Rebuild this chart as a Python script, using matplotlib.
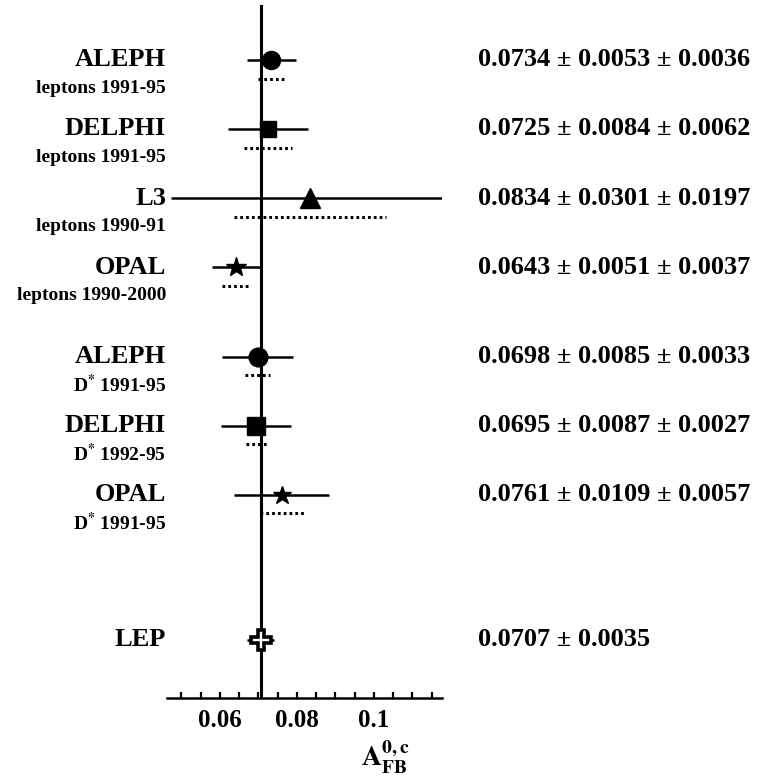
import numpy as np
import matplotlib
matplotlib.use("Agg")
import matplotlib.pyplot as plt
from matplotlib.transforms import blended_transform_factory

plt.rcParams['font.family'] = ['Liberation Serif', 'DejaVu Serif']
plt.rcParams['font.weight'] = 'bold'
plt.rcParams['mathtext.fontset'] = 'stix'

# measurements of A_FB^{0,c}
names = ['ALEPH', 'DELPHI', 'L3', 'OPAL', 'ALEPH', 'DELPHI', 'OPAL', 'LEP']
subtitles = ['leptons 1991-95', 'leptons 1991-95', 'leptons 1990-91',
             'leptons 1990-2000', r'D$^{*}$ 1991-95', r'D$^{*}$ 1992-95',
             r'D$^{*}$ 1991-95', '']
values = [0.0734, 0.0725, 0.0834, 0.0643, 0.0698, 0.0695, 0.0761, 0.0707]
stat = [0.0053, 0.0084, 0.0301, 0.0051, 0.0085, 0.0087, 0.0109, 0.0035]
syst = [0.0036, 0.0062, 0.0197, 0.0037, 0.0033, 0.0027, 0.0057, None]
lep_avg = 0.0707

markers = ['o', 's', '^', '*', 'o', 's', '*', 'P']
msizes = [13, 11.5, 14, 15, 13.5, 13, 13.5, 15]

# vertical layout of the rows (row units, top to bottom)
rows = [0, 1, 2, 3, 4.3, 5.3, 6.3, 8.4]

fig = plt.figure(figsize=(7.64, 7.84), dpi=100)
ax = fig.add_axes([167 / 764, 1 - 698 / 784, 275 / 764, 693 / 784])
ax.set_xlim(0.0463, 0.1177)
ax.set_ylim(9.246, -0.797)

ax.axvline(lep_avg, color='black', lw=2.2, zorder=1)

trans = blended_transform_factory(ax.transAxes, ax.transData)
for i in range(len(names)):
    v = values[i]
    y = rows[i]
    if syst[i] is None:
        tot = stat[i]
        txt = '%.4f \u00b1 %.4f' % (v, stat[i])
    else:
        tot = np.sqrt(stat[i] ** 2 + syst[i] ** 2)
        txt = '%.4f \u00b1 %.4f \u00b1 %.4f' % (v, stat[i], syst[i])
        ax.hlines(y + 0.27, v - syst[i], v + syst[i], colors='black',
                  linestyles=(0, (0.9, 1.0)), lw=2.2)
    if markers[i] == 'P':
        ax.errorbar(v, y, xerr=tot, fmt='P', ms=msizes[i], mfc='white',
                    mec='black', mew=2.6, ecolor='black', elinewidth=1.8,
                    capsize=0, zorder=3)
    else:
        ax.errorbar(v, y, xerr=tot, fmt=markers[i], ms=msizes[i],
                    color='black', elinewidth=1.8, capsize=0, zorder=3)

    ax.text(-0.003, y, names[i], transform=trans, ha='right', va='center',
            fontsize=19, fontweight='bold')
    if subtitles[i]:
        ax.text(-0.003, y + 0.41, subtitles[i], transform=trans, ha='right',
                va='center', fontsize=14, fontweight='bold')
    ax.text(1.131, y, txt, transform=trans, ha='left', va='center',
            fontsize=19, fontweight='bold')

for s in ['top', 'left', 'right']:
    ax.spines[s].set_visible(False)
ax.spines['bottom'].set_linewidth(1.8)
ax.set_yticks([])

ticks = np.arange(0.05, 0.1151, 0.005)
labels = []
for t in ticks:
    if abs(t - 0.06) < 1e-6:
        labels.append('0.06')
    elif abs(t - 0.08) < 1e-6:
        labels.append('0.08')
    elif abs(t - 0.1) < 1e-6:
        labels.append('0.1')
    else:
        labels.append('')
ax.set_xticks(ticks)
ax.set_xticklabels(labels, fontsize=18, fontweight='bold')
ax.tick_params(axis='x', direction='in', length=4.5, width=1.6, pad=8)

ax.text(0.793, -0.085, r'$\mathbf{A}^{\mathbf{0,c}}_{\mathbf{FB}}$',
        transform=ax.transAxes, ha='center', va='center', fontsize=20)

fig.savefig('out.png', dpi=100)
